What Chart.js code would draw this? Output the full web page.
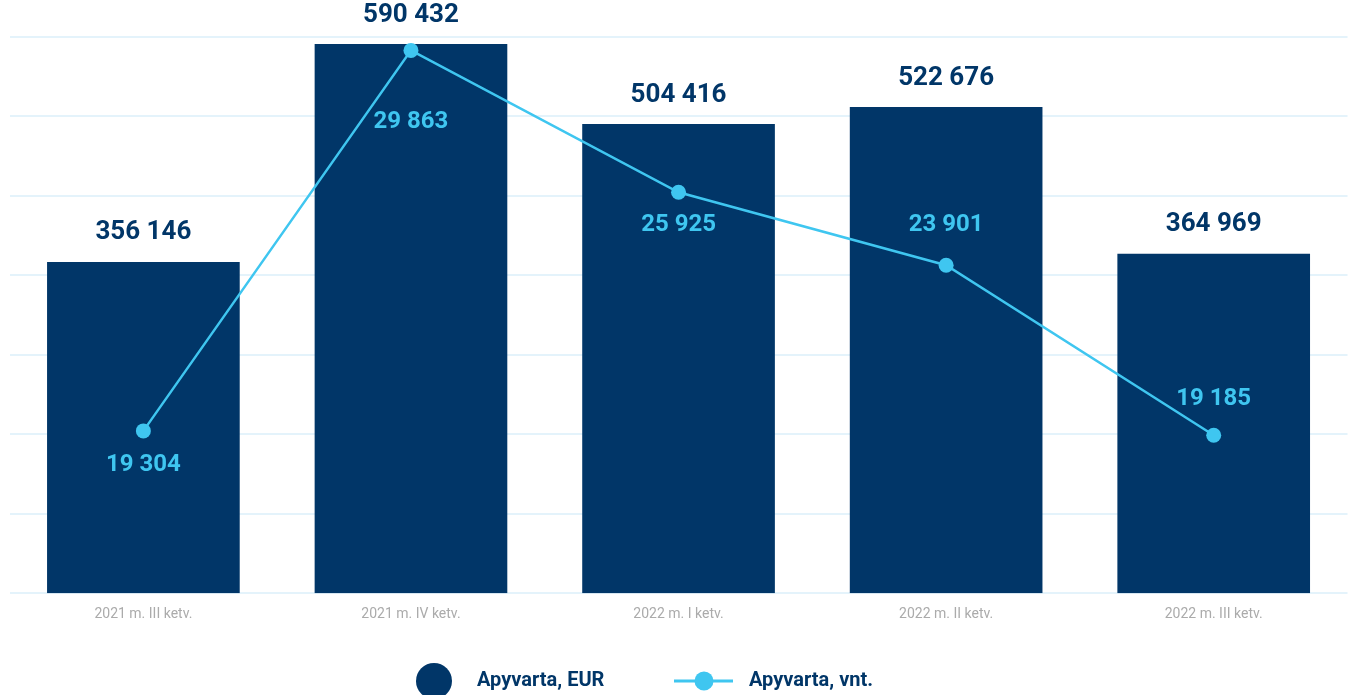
<!DOCTYPE html>
<html>
<head>
<meta charset="utf-8">
<script src="https://cdn.jsdelivr.net/npm/chart.js@4"></script>
<style>
    html, body { margin: 0; padding: 0; background: #fff; }
    #wrap { width: 1355px; height: 695px; }
</style>
</head>
<body>
<div id="wrap"><canvas id="chart" width="1355" height="695"></canvas></div>
<script>
// Data
const quarters = ['2021 m. III ketv.', '2021 m. IV ketv.', '2022 m. I ketv.', '2022 m. II ketv.', '2022 m. III ketv.'];
const turnoverEur = [356146, 590432, 504416, 522676, 364969];
const turnoverUnits = [19304, 29863, 25925, 23901, 19185];
const seriesNames = ['Apyvarta, EUR', 'Apyvarta, vnt.'];

// Styles
const NAVY = '#013668';
const SKY = '#3fc6f0';
const FONT = 'Roboto, "DejaVu Sans", sans-serif';
// vertical shift of each unit label from its point (negative = above)
const unitLabelOffsets = [34, 72, 33, -40, -36];

// 590432 -> "590 432"
function fmt(v) {
    return String(v).replace(/\B(?=(\d{3})+(?!\d))/g, ' ');
}

// Value labels above bars and next to line points
const valueLabels = {
    id: 'valueLabels',
    afterDatasetsDraw(chart) {
        const ctx = chart.ctx;
        ctx.save();
        ctx.textAlign = 'center';
        ctx.textBaseline = 'middle';

        ctx.font = 'bold 26px ' + FONT;
        ctx.fillStyle = NAVY;
        chart.getDatasetMeta(0).data.forEach((bar, i) => {
            ctx.fillText(fmt(turnoverEur[i]), bar.x, bar.y - 29);
        });

        ctx.font = 'bold 24px ' + FONT;
        ctx.fillStyle = SKY;
        chart.getDatasetMeta(1).data.forEach((pt, i) => {
            ctx.fillText(fmt(turnoverUnits[i]), pt.x, pt.y + unitLabelOffsets[i]);
        });
        ctx.restore();
    }
};

// Legend row at the bottom
const legendRow = {
    id: 'legendRow',
    afterDraw(chart) {
        const ctx = chart.ctx;
        const y = 681;
        ctx.save();
        ctx.textAlign = 'left';
        ctx.textBaseline = 'middle';
        ctx.font = 'bold 20px ' + FONT;

        // bar key
        ctx.fillStyle = NAVY;
        ctx.beginPath();
        ctx.arc(434, y, 18, 0, Math.PI * 2);
        ctx.fill();
        ctx.fillText(chart.data.datasets[0].label, 477, y);

        // line key
        ctx.strokeStyle = SKY;
        ctx.lineWidth = 3;
        ctx.beginPath();
        ctx.moveTo(674, y);
        ctx.lineTo(733, y);
        ctx.stroke();
        ctx.fillStyle = SKY;
        ctx.beginPath();
        ctx.arc(704, y, 9.5, 0, Math.PI * 2);
        ctx.fill();
        ctx.fillStyle = NAVY;
        ctx.fillText(chart.data.datasets[1].label, 749, y);
        ctx.restore();
    }
};

Chart.defaults.font.family = FONT;

new Chart(document.getElementById('chart'), {
    type: 'bar',
    data: {
        labels: quarters,
        datasets: [
            {
                label: seriesNames[0],
                data: turnoverEur,
                backgroundColor: NAVY,
                yAxisID: 'y',
                barPercentage: 0.72,
                categoryPercentage: 1,
                order: 1
            },
            {
                type: 'line',
                label: seriesNames[1],
                data: turnoverUnits,
                borderColor: SKY,
                borderWidth: 2.5,
                pointRadius: 7.5,
                pointBackgroundColor: SKY,
                pointBorderWidth: 0,
                tension: 0,
                yAxisID: 'y1',
                order: 0
            }
        ]
    },
    options: {
        responsive: false,
        animation: false,
        layout: {
            padding: { top: 37, left: 9.6, right: 6.6, bottom: 60 }
        },
        plugins: {
            legend: { display: false },
            tooltip: { enabled: false }
        },
        scales: {
            x: {
                grid: { display: false, drawTicks: false },
                border: { display: false },
                ticks: { color: '#ababab', font: { size: 14 }, padding: 12.5 }
            },
            rows: {
                type: 'linear',
                position: 'left',
                min: 0,
                max: 7,
                grid: { color: '#e4f3fb', lineWidth: 2, drawTicks: false },
                border: { display: false },
                ticks: { display: false, stepSize: 1 }
            },
            y: { display: false, min: 0, max: 598000 },
            y1: { display: false, min: 14800, max: 30235 }
        }
    },
    plugins: [valueLabels, legendRow]
});
</script>
</body>
</html>
